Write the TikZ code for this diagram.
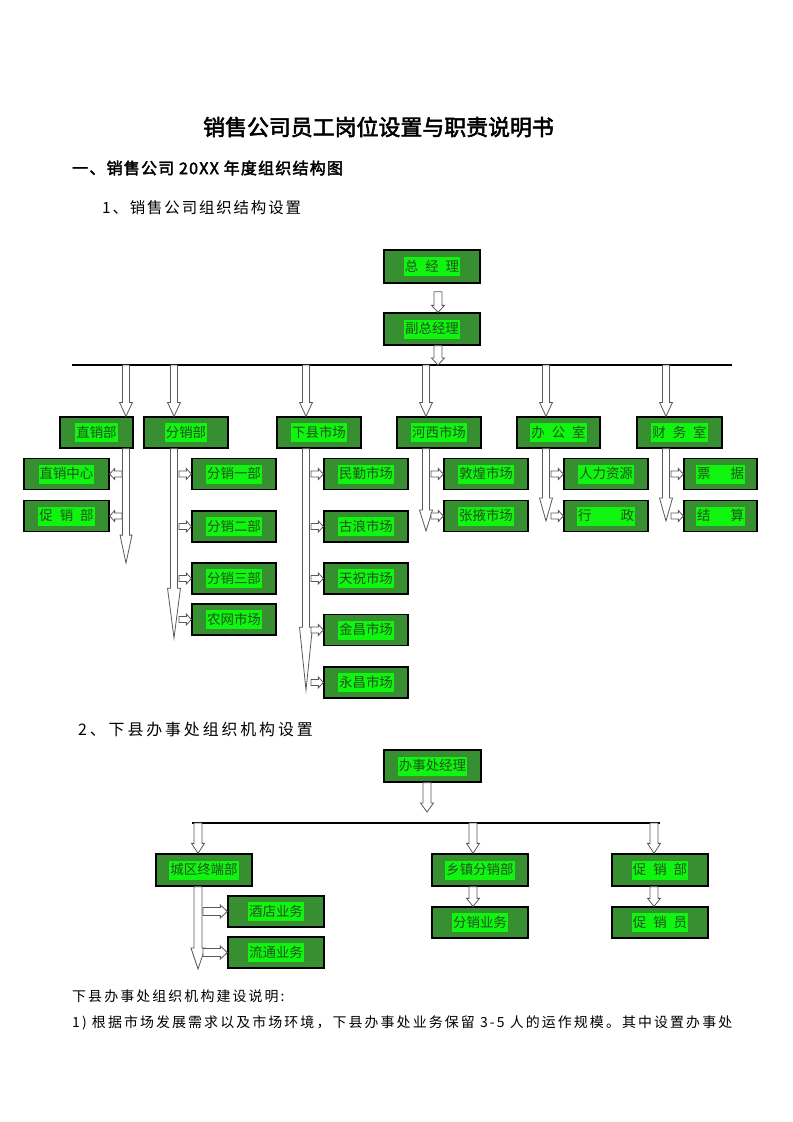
\documentclass[tikz,border=0pt]{standalone}
\usepackage{fontspec}
\setmainfont{Noto Sans CJK SC}[AutoFakeBold=2.5]
\usepackage{tikz}
\usetikzlibrary{calc}
\definecolor{boxgreen}{RGB}{55,143,50}
\definecolor{hilite}{RGB}{16,245,16}
\definecolor{txtgreen}{RGB}{35,80,30}
\newcommand{\hl}[1]{{\setlength{\fboxsep}{1pt}\colorbox{hilite}{\rule[-4bp]{0pt}{17bp}#1}}}
\newcommand{\gap}[1]{\hspace*{#1bp}}

\begin{document}
\begin{tikzpicture}[x=1bp,y=-1bp,
    box/.style={draw=black, line width=1.3bp, fill=boxgreen, inner sep=0pt, minimum width=84bp, minimum height=31bp, text=txtgreen, font=\fontsize{13.5}{14}\selectfont},
    barrow/.style n args={3}{draw=black!65, line width=0.8bp, fill=white,
        to path={let \p1=(\tikztostart), \p2=(\tikztotarget),
            \n1={atan2(\y2-\y1,\x2-\x1)}, \n2={veclen(\x2-\x1,\y2-\y1)} in
            ([shift={(\p1)},rotate=\n1]0pt,{#1*0.5pt})
            -- ([shift={(\p1)},rotate=\n1]{\n2*1pt-#3*1pt},{#1*0.5pt})
            -- ([shift={(\p1)},rotate=\n1]{\n2*1pt-#3*1pt},{#2*0.5pt})
            -- ([shift={(\p1)},rotate=\n1]{\n2*1pt},0pt)
            -- ([shift={(\p1)},rotate=\n1]{\n2*1pt-#3*1pt},{-#2*0.5pt})
            -- ([shift={(\p1)},rotate=\n1]{\n2*1pt-#3*1pt},{-#1*0.5pt})
            -- ([shift={(\p1)},rotate=\n1]0pt,{-#1*0.5pt}) -- cycle}},
    drop/.style={barrow={7}{13}{14}},
    side/.style={barrow={6}{11}{5}},
    heading/.style={anchor=west, inner sep=0pt, font=\fontsize{15.5}{18}\selectfont\addfontfeature{LetterSpace=12}},
    note/.style={anchor=west, inner sep=0pt, font=\fontsize{14}{16}\selectfont\addfontfeature{LetterSpace=15}}]

    \useasboundingbox (0,0) rectangle (793,1122);

    \node (title) at (378.5,127) [font=\fontsize{22}{24}\selectfont\bfseries] {销售公司员工岗位设置与职责说明书};
    \node (sec1) at (72,168) [anchor=west, inner sep=0pt, font=\fontsize{16}{18}\selectfont\bfseries\addfontfeature{LetterSpace=8}] {一、销售公司 20XX 年度组织结构图};
    \node (sub1) at (102,208) [heading] {1、销售公司组织结构设置};

    \node (gm) at (432,266.5) [box, minimum width=96bp, minimum height=33bp] {\hl{总\gap{7}经\gap{7}理}};
    \node (vgm) at (432,329) [box, minimum width=96bp, minimum height=32bp] {\hl{副总经理}};

    \node (zx) at (96.5,432.5) [box, minimum width=73bp] {\hl{直销部}};
    \node (fx) at (186,432.5) [box] {\hl{分销部}};
    \node (xx) at (319,432.5) [box] {\hl{下县市场}};
    \node (hx) at (439,432.5) [box] {\hl{河西市场}};
    \node (bg) at (558.5,432.5) [box, minimum width=83bp] {\hl{办\gap{7}公\gap{7}室}};
    \node (cw) at (679.5,432.5) [box, minimum width=85bp] {\hl{财\gap{7}务\gap{7}室}};

    \node (zx1) at (66.5,474) [box, minimum width=85bp] {\hl{直销中心}};
    \node (zx2) at (66.5,516) [box, minimum width=85bp] {\hl{促\gap{7}销\gap{7}部}};
    \node (fx1) at (234,474) [box] {\hl{分销一部}};
    \node (fx2) at (234,526.5) [box] {\hl{分销二部}};
    \node (fx3) at (234,578.5) [box] {\hl{分销三部}};
    \node (fx4) at (234,619.5) [box] {\hl{农网市场}};
    \node (xx1) at (366,474) [box] {\hl{民勤市场}};
    \node (xx2) at (366,526.5) [box] {\hl{古浪市场}};
    \node (xx3) at (366,578.5) [box] {\hl{天祝市场}};
    \node (xx4) at (366,630) [box] {\hl{金昌市场}};
    \node (xx5) at (366,682.5) [box] {\hl{永昌市场}};
    \node (hx1) at (486,474) [box] {\hl{敦煌市场}};
    \node (hx2) at (486,516) [box] {\hl{张掖市场}};
    \node (bg1) at (606,474) [box] {\hl{人力资源}};
    \node (bg2) at (606,516) [box] {\hl{行\gap{29}政}};
    \node (cw1) at (720.5,474) [box, minimum width=73bp] {\hl{票\gap{20}据}};
    \node (cw2) at (720.5,516) [box, minimum width=73bp] {\hl{结\gap{20}算}};

    \coordinate (la) at (72,365);
    \coordinate (lb) at (732,365);
    \draw [line width=1.8bp] (la) -- (lb);
    \coordinate (d0) at (438,365);
    \coordinate (d1) at (126,365);
    \coordinate (d2) at (174,365);
    \coordinate (d3) at (306,365);
    \coordinate (d4) at (426,365);
    \coordinate (d5) at (546,365);
    \coordinate (d6) at (666,365);

    \draw [barrow={8}{13}{7}] ([shift={(6bp,-8bp)}]gm.south) to ([xshift=6bp]vgm.north);
    \draw [barrow={8}{13}{7}] ([xshift=6bp]vgm.south) to (d0);
    \foreach \dd/\bb in {d1/zx,d2/fx,d3/xx,d4/hx,d5/bg,d6/cw}
        \draw [drop] (\dd) to (\dd |- \bb.north);

    \coordinate (e1) at (126,563);
    \coordinate (e2) at (174,638);
    \coordinate (e3) at (306,690);
    \coordinate (e4) at (426,531);
    \coordinate (e5) at (546,521);
    \coordinate (e6) at (666,521);
    \draw [barrow={7}{12}{28}] (d1 |- zx.south) to (e1);
    \draw [barrow={7}{13}{50}] (d2 |- fx.south) to (e2);
    \draw [barrow={7}{13}{63}] (d3 |- xx.south) to (e3);
    \draw [barrow={7}{13}{21}] (d4 |- hx.south) to (e4);
    \draw [barrow={7}{13}{23}] (d5 |- bg.south) to (e5);
    \draw [barrow={7}{13}{23}] (d6 |- cw.south) to (e6);

    \foreach \cc in {zx1,zx2}
        \draw [side] ([xshift=-4bp]d1 |- \cc.east) to (\cc.east);
    \foreach \cc in {fx1,fx2,fx3,fx4}
        \draw [side] ([xshift=5bp]d2 |- \cc.west) to (\cc.west);
    \foreach \cc in {xx1,xx2,xx3,xx4,xx5}
        \draw [side] ([xshift=5bp]d3 |- \cc.west) to (\cc.west);
    \foreach \cc in {hx1,hx2}
        \draw [side] ([xshift=5bp]d4 |- \cc.west) to (\cc.west);
    \foreach \cc in {bg1,bg2}
        \draw [side] ([xshift=5bp]d5 |- \cc.west) to (\cc.west);
    \foreach \cc in {cw1,cw2}
        \draw [side] ([xshift=5bp]d6 |- \cc.west) to (\cc.west);

    \node (sub2) at (78,729) [anchor=west, inner sep=0pt, font=\fontsize{16}{18}\selectfont\addfontfeature{LetterSpace=18}] {2、下县办事处组织机构设置};

    \node (bsc) at (432.5,766) [box, minimum width=97bp, minimum height=32bp] {\hl{办事处经理}};
    \node (cq) at (204,870) [box, minimum width=96bp, minimum height=32bp] {\hl{城区终端部}};
    \node (xz) at (480,870) [box, minimum width=96bp, minimum height=32bp] {\hl{乡镇分销部}};
    \node (cx) at (660,870) [box, minimum width=96bp, minimum height=32bp] {\hl{促\gap{7}销\gap{7}部}};
    \node (cq1) at (276,911.5) [box, minimum width=96bp] {\hl{酒店业务}};
    \node (cq2) at (276,952.5) [box, minimum width=96bp] {\hl{流通业务}};
    \node (xz1) at (480,922.5) [box, minimum width=96bp] {\hl{分销业务}};
    \node (cx1) at (660,922.5) [box, minimum width=96bp] {\hl{促\gap{7}销\gap{7}员}};

    \coordinate (m0) at (427,812);
    \draw [barrow={8}{13}{9}] ([xshift=-5.5bp]bsc.south) to (m0);
    \coordinate (ma) at (192,823);
    \coordinate (mb) at (660,823);
    \draw [line width=1.8bp] (ma) -- (mb);
    \coordinate (m1) at (198,823);
    \coordinate (m2) at (473,823);
    \coordinate (m3) at (654,823);
    \foreach \mm/\bb in {m1/cq,m2/xz,m3/cx}
        \draw [barrow={8}{13}{10}] (\mm) to (\mm |- \bb.north);
    \coordinate (f1) at (198,969);
    \draw [barrow={8}{14}{21}] (m1 |- cq.south) to (f1);
    \foreach \cc in {cq1,cq2}
        \draw [barrow={8}{13}{7}] ([xshift=5bp]m1 |- \cc.west) to (\cc.west);
    \draw [barrow={8}{13}{8}] (m2 |- xz.south) to (m2 |- xz1.north);
    \draw [barrow={8}{13}{8}] (m3 |- cx.south) to (m3 |- cx1.north);

    \node (note1) at (72,996) [note] {下县办事处组织机构建设说明:};
    \node (note2) at (72,1023) [note] {1) 根据市场发展需求以及市场环境，下县办事处业务保留 3-5 人的运作规模。其中设置办事处};
\end{tikzpicture}
\end{document}
